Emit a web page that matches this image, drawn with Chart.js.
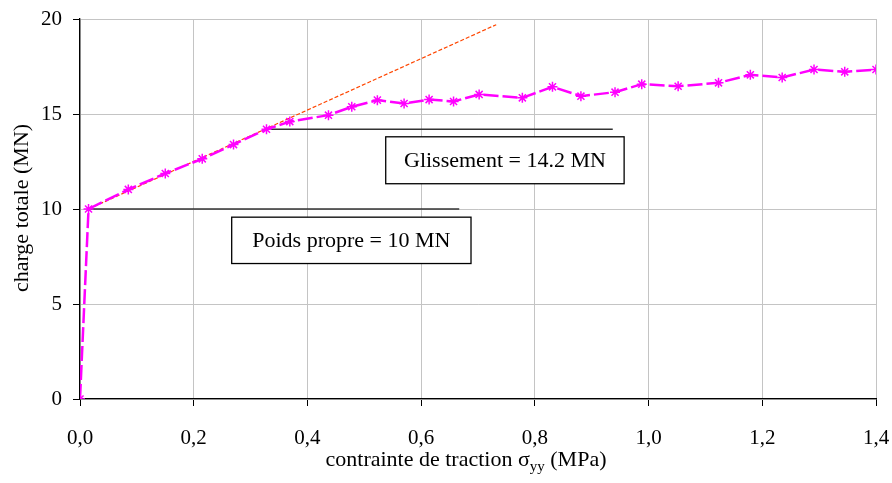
<!DOCTYPE html>
<html>
<head>
<meta charset="utf-8">
<script src="https://cdn.jsdelivr.net/npm/chart.js@4"></script>
<style>
  html, body { margin: 0; padding: 0; background: #fff; }
  #wrap { width: 892px; height: 483px; }
</style>
</head>
<body>
<div id="wrap"><canvas id="chargeChart" width="892" height="483"></canvas></div>
<script>
// measured curve: tensile stress (MPa) vs total load (MN)
const sigma = [0, 0.015, 0.085, 0.150, 0.215, 0.270, 0.328, 0.369, 0.437, 0.478, 0.523, 0.570,
    0.614, 0.657, 0.702, 0.778, 0.831, 0.881, 0.941, 0.988, 1.052, 1.123, 1.179, 1.235, 1.291, 1.345, 1.400];
const charge = [0, 10.0, 11.03, 11.87, 12.64, 13.39, 14.2, 14.6, 14.94, 15.38, 15.73, 15.55,
    15.76, 15.66, 16.03, 15.85, 16.43, 15.94, 16.15, 16.57, 16.46, 16.64, 17.06, 16.92, 17.34, 17.22, 17.34];

// elastic tangent (red dashed)
const tangentX = [0.015, 0.732];
const tangentY = [10.0, 19.7];

// reference levels
const poidsX = [0.015, 0.667];
const poidsY = [10, 10];
const glissX = [0.328, 0.937];
const glissY = [14.2, 14.2];

const yTicks = [0, 5, 10, 15, 20];

const labelBoxes = [
    { text: 'Glissement = 14.2 MN', x0: 0.5377, x1: 0.957, y0: 13.8, y1: 11.33 },
    { text: 'Poids propre = 10 MN', x0: 0.2668, x1: 0.6877, y0: 9.57, y1: 7.13 }
];

const FONT = '"Liberation Serif", "Times New Roman", serif';

function pts(xs, ys) {
    return xs.map((x, i) => ({ x: x, y: ys[i] }));
}

const textPlugin = {
    id: 'textPlugin',
    afterDraw(chart) {
        const c = chart.ctx;
        const xs = chart.scales.x, ys = chart.scales.y;
        c.save();
        // label boxes
        c.font = '22px ' + FONT;
        c.textAlign = 'center';
        c.textBaseline = 'middle';
        labelBoxes.forEach(b => {
            const l = xs.getPixelForValue(b.x0), r = xs.getPixelForValue(b.x1);
            const t = ys.getPixelForValue(b.y0), bt = ys.getPixelForValue(b.y1);
            c.fillStyle = '#fff';
            c.fillRect(l, t, r - l, bt - t);
            c.strokeStyle = '#000';
            c.lineWidth = 1.3;
            c.strokeRect(l, t, r - l, bt - t);
            c.fillStyle = '#000';
            c.fillText(b.text, (l + r) / 2, (t + bt) / 2 + 1);
        });

        // y title
        c.save();
        c.translate(22, 208);
        c.rotate(-Math.PI / 2);
        c.font = '22px ' + FONT;
        c.fillText('charge totale (MN)', 0, 0);
        c.restore();

        // x title with subscript
        const p1 = 'contrainte de traction σ', sub = 'yy', p2 = ' (MPa)';
        c.textAlign = 'left';
        c.textBaseline = 'alphabetic';
        c.font = '22px ' + FONT;
        const w1 = c.measureText(p1).width, w3 = c.measureText(p2).width;
        c.font = '15px ' + FONT;
        const w2 = c.measureText(sub).width;
        let x = 466 - (w1 + w2 + w3) / 2;
        const base = 466;
        c.font = '22px ' + FONT;
        c.fillText(p1, x, base);
        x += w1;
        c.font = '15px ' + FONT;
        c.fillText(sub, x, base + 5);
        x += w2;
        c.font = '22px ' + FONT;
        c.fillText(p2, x, base);
        c.restore();
    }
};

const ctx = document.getElementById('chargeChart').getContext('2d');

new Chart(ctx, {
    type: 'scatter',
    data: {
        datasets: [{
            label: 'charge',
            data: pts(sigma, charge),
            showLine: true,
            borderColor: '#ff00ff',
            backgroundColor: '#ff00ff',
            borderWidth: 2.5,
            borderDash: [15, 4],
            pointStyle: 'star',
            pointRadius: 5,
            pointBorderWidth: 1.5,
            pointBorderColor: '#ff00ff',
            order: 0
        }, {
            label: 'tangente',
            data: pts(tangentX, tangentY),
            showLine: true,
            borderColor: 'rgb(255,70,0)',
            borderWidth: 1.2,
            borderDash: [4, 2],
            pointRadius: 0,
            order: 1
        }, {
            label: 'poids',
            data: pts(poidsX, poidsY),
            showLine: true,
            borderColor: '#333',
            borderWidth: 1.5,
            pointRadius: 0,
            order: 2
        }, {
            label: 'glissement',
            data: pts(glissX, glissY),
            showLine: true,
            borderColor: '#333',
            borderWidth: 1.5,
            pointRadius: 0,
            order: 2
        }]
    },
    options: {
        responsive: false,
        animation: false,
        layout: {
            autoPadding: false,
            padding: { top: 19, right: 16, left: 0, bottom: 0 }
        },
        scales: {
            x: {
                type: 'linear',
                min: 0,
                max: 1.4,
                afterFit: function (s) {
                    s.height = 84;
                    s.paddingLeft = 0;
                    s.paddingRight = 0;
                },
                ticks: {
                    stepSize: 0.2,
                    padding: 20,
                    color: '#000',
                    font: { family: FONT, size: 21 },
                    callback: v => v.toFixed(1).replace('.', ',')
                },
                grid: { color: '#c4c4c4', tickColor: '#000', tickLength: 7 },
                border: { color: '#000', width: 1.3 }
            },
            y: {
                min: 0,
                max: 20,
                afterFit: function (s) {
                    s.width = 80;
                    s.paddingTop = 0;
                    s.paddingBottom = 0;
                },
                afterBuildTicks: function (s) { s.ticks = yTicks.map(v => ({ value: v })); },
                ticks: {
                    padding: 11,
                    color: '#000',
                    font: { family: FONT, size: 21 }
                },
                grid: { color: '#c4c4c4', tickColor: '#000', tickLength: 7 },
                border: { color: '#000', width: 1.3 }
            }
        },
        plugins: {
            legend: { display: false },
            tooltip: { enabled: false }
        }
    },
    plugins: [textPlugin]
});
</script>
</body>
</html>
